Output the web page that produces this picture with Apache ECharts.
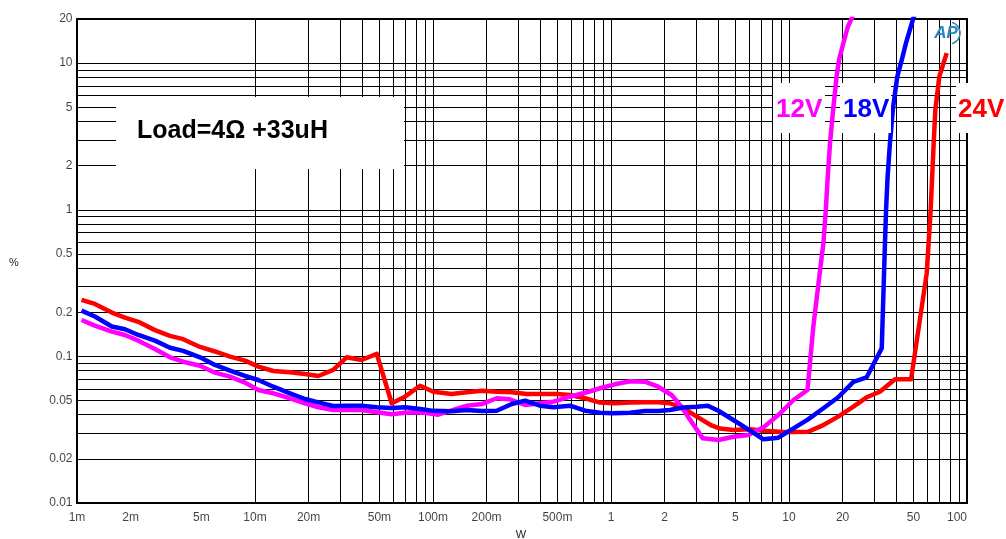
<!DOCTYPE html>
<html><head><meta charset="utf-8">
<script src="https://cdn.jsdelivr.net/npm/echarts@6/dist/echarts.min.js"></script>
<style>html,body{margin:0;padding:0;background:#fff}#c{width:1006px;height:539px}</style>
</head><body><div id="c"></div>
<script>
// ---- tick labels ----
const xTickValues = [0.001,0.002,0.005,0.01,0.02,0.05,0.1,0.2,0.5,1,2,5,10,20,50,100];
const xTickLabels = ['1m','2m','5m','10m','20m','50m','100m','200m','500m','1','2','5','10','20','50','100'];
const yTickValues = [0.01,0.02,0.05,0.1,0.2,0.5,1,2,5,10,20];
const yTickLabels = ['0.01','0.02','0.05','0.1','0.2','0.5','1','2','5','10','20'];
const seriesNames = ['12V','18V','24V'];

// ---- 12V (magenta): power W, THD+N % ----
const w12 = [0.00106,0.00126,0.00157,0.00186,0.00221,0.00274,0.00333,0.00395,0.00491,0.00596,0.00724,0.00879,0.01044,0.01268,0.01573,0.0191,0.0227,0.0275,0.0327,0.0397,0.0483,0.0586,0.0696,0.0775,0.090,0.107,0.130,0.155,0.188,0.228,0.270,0.329,0.399,0.474,0.589,0.715,0.868,1.05,1.28,1.55,1.84,2.19,2.49,2.78,3.28,4.01,4.87,5.90,7.18,8.71,10.6,12.7,13.7,14.8,15.6,16.1,16.5,17.0,17.7,18.5,19.1,20.2,21.4,22.5,23.5];
const thd12 = [0.177,0.162,0.1475,0.140,0.128,0.1123,0.0986,0.092,0.0864,0.0774,0.0727,0.0662,0.059,0.056,0.0518,0.0479,0.045,0.0431,0.0431,0.0431,0.0416,0.0403,0.0412,0.0416,0.0413,0.0400,0.0431,0.0461,0.0473,0.0518,0.051,0.0466,0.0479,0.0491,0.0531,0.0565,0.0606,0.0645,0.0676,0.0672,0.0621,0.0545,0.0454,0.037,0.0276,0.0269,0.0283,0.0291,0.0328,0.0398,0.0504,0.059,0.16,0.35,0.59,0.997,1.67,2.84,4.80,8.09,10.5,13.7,17.7,20.2,23];

// ---- 18V (blue) ----
const w18 = [0.00106,0.00126,0.00157,0.00186,0.00221,0.00274,0.00333,0.00395,0.00491,0.00596,0.00724,0.00879,0.01044,0.01268,0.01573,0.0191,0.0227,0.0275,0.0327,0.0397,0.0483,0.0586,0.0696,0.0846,0.1005,0.127,0.155,0.188,0.228,0.277,0.329,0.399,0.474,0.589,0.715,0.868,1.03,1.28,1.55,1.84,2.14,2.55,3.03,3.5,4.01,4.87,5.90,7.18,8.71,10.6,12.8,15.6,18.9,23.0,27.3,33.2,34.6,35.1,35.8,36.9,38.3,39.4,40.6,43.0,45.4,49.9,52];
const thd18 = [0.205,0.187,0.160,0.153,0.140,0.128,0.1146,0.109,0.0986,0.0874,0.0799,0.0735,0.069,0.0621,0.056,0.0512,0.0486,0.0459,0.0461,0.0461,0.045,0.0445,0.045,0.0438,0.0425,0.0423,0.0431,0.0424,0.0426,0.0473,0.0499,0.0461,0.045,0.0461,0.0426,0.0413,0.0409,0.0413,0.0424,0.0424,0.0431,0.0448,0.0454,0.0461,0.0426,0.0368,0.0318,0.0272,0.0279,0.0323,0.0372,0.0443,0.0526,0.067,0.072,0.1136,0.59,0.997,1.68,2.84,4.80,6.23,8.09,10.5,13.7,20.2,23];

// ---- 24V (red) ----
const w24 = [0.00106,0.00126,0.00157,0.00186,0.00221,0.00274,0.00333,0.00395,0.00491,0.00596,0.00724,0.00879,0.01044,0.01268,0.01573,0.0191,0.0227,0.0275,0.0327,0.0397,0.0483,0.0586,0.0696,0.0846,0.1005,0.127,0.155,0.188,0.228,0.277,0.336,0.399,0.495,0.589,0.715,0.868,1.05,1.28,1.55,1.84,2.14,2.55,3.1,3.67,4.1,4.87,6.04,7.18,8.9,10.6,12.8,15.6,18.9,23.0,27.3,32.4,39.4,48.5,59.4,62.5,65.0,66.4,69.9,76.9];
const thd24 = [0.243,0.228,0.199,0.184,0.172,0.151,0.138,0.131,0.116,0.108,0.0995,0.0935,0.0851,0.0795,0.078,0.0759,0.0735,0.0808,0.0986,0.0945,0.104,0.0479,0.0531,0.063,0.0574,0.0554,0.0569,0.0583,0.0574,0.0569,0.0554,0.0554,0.0554,0.0545,0.0518,0.0484,0.0479,0.0484,0.0487,0.0487,0.0479,0.0443,0.0382,0.0338,0.0322,0.0315,0.0318,0.0311,0.0306,0.0305,0.0306,0.034,0.0388,0.0454,0.0526,0.0574,0.0698,0.0698,0.369,0.997,2.86,4.8,8.09,11.7];

const FONT = '"Liberation Sans", Arial, Helvetica, sans-serif';
const zip = (a, b) => a.map((v, i) => [v, b[i]]);

// grid line positions (1..9 per decade)
const gridX = [];
[0.001, 0.01, 0.1, 1, 10].forEach(d => { for (let k = 1; k <= 9; k++) gridX.push(+(d * k).toPrecision(3)); });
gridX.push(100);
const gridY = [];
[0.01, 0.1, 1].forEach(d => { for (let k = 1; k <= 9; k++) gridY.push(+(d * k).toPrecision(3)); });
gridY.push(10, 20);

const chart = echarts.init(document.getElementById('c'), null, { renderer: 'canvas' });

const axisCommon = {
  type: 'log', logBase: 10,
  axisLine: { show: false }, axisTick: { show: false }, axisLabel: { show: false },
  splitLine: { show: false }, minorTick: { show: false }, minorSplitLine: { show: false }
};

const curve = (name, w, t, color) => ({
  type: 'line', name: name, data: zip(w, t), symbol: 'none', z: 5,
  lineStyle: { color: color, width: 4.5, join: 'round' }, itemStyle: { color: color },
  emphasis: { disabled: true }, silent: true, clip: true
});

const option = {
  animation: false,
  backgroundColor: '#fff',
  grid: { left: 77, right: 39, top: 19, bottom: 36, show: true, borderColor: '#000', borderWidth: 2, backgroundColor: 'transparent' },
  xAxis: Object.assign({}, axisCommon, { min: 0.001, max: 100 }),
  yAxis: Object.assign({}, axisCommon, { min: 0.01, max: 20 }),
  graphic: [
    { type: 'rect', zlevel: 1, z: 3, shape: { x: 116, y: 97, width: 288, height: 72 }, style: { fill: '#fff' } },
    { type: 'text', zlevel: 1, z: 4, x: 137, y: 131, style: { text: 'Load=4Ω +33uH', fill: '#000', font: 'bold 25px ' + FONT, verticalAlign: 'middle' } },
    { type: 'rect', zlevel: 1, z: 3, shape: { x: 773, y: 83, width: 52, height: 50 }, style: { fill: '#fff' } },
    { type: 'rect', zlevel: 1, z: 3, shape: { x: 840, y: 83, width: 51, height: 50 }, style: { fill: '#fff' } },
    { type: 'rect', zlevel: 1, z: 3, shape: { x: 956, y: 83, width: 50, height: 50 }, style: { fill: '#fff' } },
    { type: 'text', zlevel: 1, z: 6, x: 776, y: 110, style: { text: seriesNames[0], fill: '#ff00ff', font: 'bold 26px ' + FONT, verticalAlign: 'middle' } },
    { type: 'text', zlevel: 1, z: 6, x: 843, y: 110, style: { text: seriesNames[1], fill: '#0000ff', font: 'bold 26px ' + FONT, verticalAlign: 'middle' } },
    { type: 'text', zlevel: 1, z: 6, x: 958, y: 110, style: { text: seriesNames[2], fill: '#ff0000', font: 'bold 26px ' + FONT, verticalAlign: 'middle' } },
    { type: 'text', zlevel: 1, z: 6, x: 946, y: 33, style: { text: 'AP', fill: '#2b86bf', font: 'italic bold 17px ' + FONT, align: 'center', verticalAlign: 'middle' } },
    { type: 'arc', zlevel: 1, z: 6, shape: { cx: 949, cy: 33, r: 11, startAngle: -1.3, endAngle: 1.3 }, style: { stroke: '#2b86bf', lineWidth: 1.5, fill: null } },
    { type: 'text', z: 6, x: 14, y: 263, style: { text: '%', fill: '#222', font: '11px ' + FONT, align: 'center', verticalAlign: 'middle' } },
    { type: 'text', z: 6, x: 521, y: 535, style: { text: 'W', fill: '#222', font: '11px ' + FONT, align: 'center', verticalAlign: 'middle' } }
  ],
  series: [
    {
      type: 'line', name: 'grid', data: [[0.001, 0.01]], symbol: 'none', z: 1, silent: true,
      lineStyle: { opacity: 0 },
      markLine: {
        silent: true, symbol: ['none', 'none'], label: { show: false }, animation: false,
        lineStyle: { color: '#000', width: 1, type: 'solid', opacity: 1 }, emphasis: { disabled: true },
        data: gridX.map(v => ({ xAxis: v })).concat(gridY.map(v => ({ yAxis: v })))
      }
    },
    {
      type: 'scatter', name: 'xlabels', z: 6, silent: true, clip: false, symbolSize: 1,
      itemStyle: { color: 'rgba(0,0,0,0)' },
      label: { show: true, position: 'bottom', distance: 8, formatter: '{b}', fontSize: 12, color: '#111', fontFamily: FONT },
      data: xTickValues.map((v, i) => ({
        name: xTickLabels[i], value: [v, 0.01],
        label: i === xTickValues.length - 1 ? { offset: [-10, 0] } : {}
      }))
    },
    {
      type: 'scatter', name: 'ylabels', z: 6, silent: true, clip: false, symbolSize: 1,
      itemStyle: { color: 'rgba(0,0,0,0)' },
      label: { show: true, position: 'left', distance: 4, formatter: '{b}', fontSize: 12, color: '#111', fontFamily: FONT },
      data: yTickValues.map((v, i) => ({ name: yTickLabels[i], value: [0.001, v] }))
    },
    curve('24V', w24, thd24, '#ff0000'),
    curve('12V', w12, thd12, '#ff00ff'),
    curve('18V', w18, thd18, '#0000ff')
  ]
};
chart.setOption(option);
</script>
</body></html>
